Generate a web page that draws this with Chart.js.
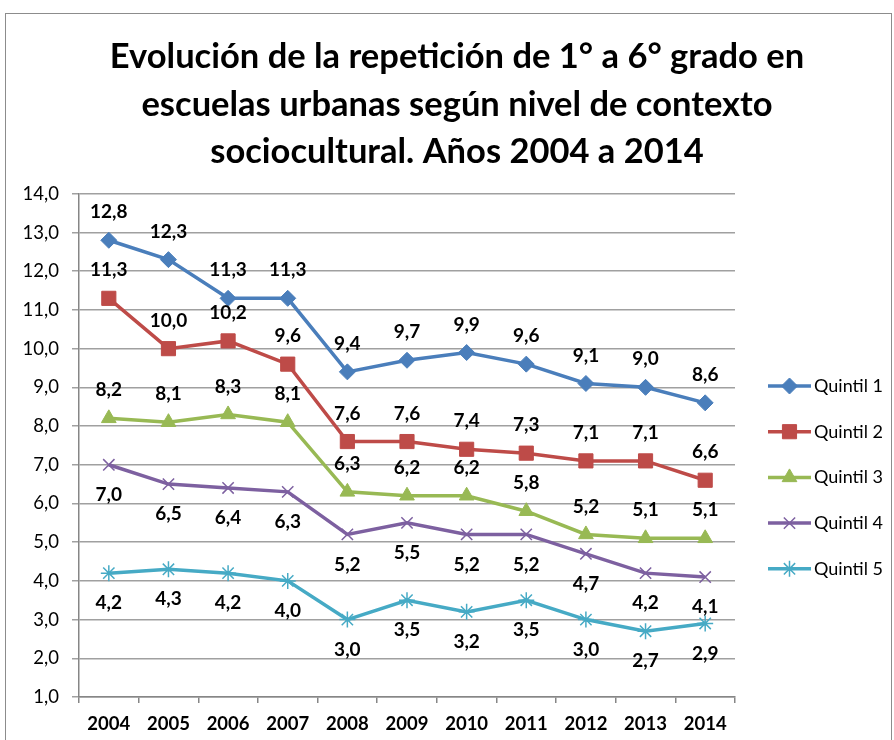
<!DOCTYPE html>
<html>
<head>
<meta charset="utf-8">
<script src="https://cdn.jsdelivr.net/npm/chart.js@4.4.0/dist/chart.umd.min.js"></script>
<style>
  html, body { margin: 0; padding: 0; background: #fff; overflow: hidden; }
  #frame { position: absolute; left: 5px; top: 13px; width: 887px; height: 800px; border: 1.5px solid #8c8c8c; box-sizing: border-box; }
  #wrap { position: absolute; left: 0; top: 0; width: 894px; height: 740px; }
</style>
</head>
<body>
<div id="frame"></div>
<div id="wrap"><canvas id="myChart" width="894" height="740"></canvas></div>
<script>
const years = ['2004', '2005', '2006', '2007', '2008', '2009', '2010', '2011', '2012', '2013', '2014'];
const seriesNames = ['Quintil 1', 'Quintil 2', 'Quintil 3', 'Quintil 4', 'Quintil 5'];
const quintil1 = [12.8, 12.3, 11.3, 11.3, 9.4, 9.7, 9.9, 9.6, 9.1, 9.0, 8.6];
const quintil2 = [11.3, 10.0, 10.2, 9.6, 7.6, 7.6, 7.4, 7.3, 7.1, 7.1, 6.6];
const quintil3 = [8.2, 8.1, 8.3, 8.1, 6.3, 6.2, 6.2, 5.8, 5.2, 5.1, 5.1];
const quintil4 = [7.0, 6.5, 6.4, 6.3, 5.2, 5.5, 5.2, 5.2, 4.7, 4.2, 4.1];
const quintil5 = [4.2, 4.3, 4.2, 4.0, 3.0, 3.5, 3.2, 3.5, 3.0, 2.7, 2.9];
const titleLines = ['Evolución de la repetición de 1° a 6° grado en', 'escuelas urbanas según nivel de contexto', 'sociocultural. Años 2004 a 2014'];

const colores = ['#4a7ebb', '#be4b48', '#98b954', '#7d60a0', '#46aac5'];
const estilos = ['rectRot', 'rect', 'triangle', 'crossRot', 'star'];
const radios = [8, 10, 8.5, 8, 8];
const labelOffset = [-28, -28, -28, 30, 30];
const FONT = 'Lato, "Open Sans", sans-serif';

function fmt(v) { return v.toFixed(1).replace('.', ','); }

const valores = [quintil1, quintil2, quintil3, quintil4, quintil5];
const datasets = valores.map(function (vals, i) {
  return {
    label: seriesNames[i],
    data: vals,
    borderColor: colores[i],
    backgroundColor: colores[i],
    pointBackgroundColor: colores[i],
    pointBorderColor: colores[i],
    pointStyle: estilos[i],
    pointRadius: radios[i],
    pointBorderWidth: (i >= 3) ? 1.5 : 1,
    borderWidth: 3.5,
    tension: 0
  };
});

// etiquetas de datos sobre / bajo cada punto
const dataLabels = {
  id: 'dataLabels',
  afterDatasetsDraw: function (chart) {
    const ctx = chart.ctx;
    ctx.save();
    ctx.font = 'bold 19px ' + FONT;
    ctx.fillStyle = '#000';
    ctx.textAlign = 'center';
    ctx.textBaseline = 'middle';
    chart.data.datasets.forEach(function (ds, i) {
      chart.getDatasetMeta(i).data.forEach(function (pt, j) {
        ctx.fillText(fmt(ds.data[j]), pt.x, pt.y + labelOffset[i]);
      });
    });
    ctx.restore();
  }
};

// leyenda con linea + marcador
const lineLegend = {
  id: 'lineLegend',
  afterDraw: function (chart) {
    const ctx = chart.ctx;
    const x0 = 768, x1 = 811, y0 = 386, step = 45.7;
    ctx.save();
    chart.data.datasets.forEach(function (ds, i) {
      const y = y0 + i * step;
      ctx.strokeStyle = ds.borderColor;
      ctx.lineWidth = 3.5;
      ctx.beginPath();
      ctx.moveTo(x0, y);
      ctx.lineTo(x1, y);
      ctx.stroke();
      ctx.fillStyle = ds.borderColor;
      ctx.lineWidth = ds.pointBorderWidth;
      Chart.helpers.drawPoint(ctx, { pointStyle: ds.pointStyle, radius: ds.pointRadius, borderWidth: ds.pointBorderWidth, rotation: 0 }, (x0 + x1) / 2, y);
      ctx.fillStyle = '#000';
      ctx.font = '18px ' + FONT;
      ctx.textAlign = 'left';
      ctx.textBaseline = 'middle';
      ctx.fillText(ds.label, 814, y);
    });
    ctx.restore();
  }
};

const ctx = document.getElementById('myChart');
const myChart = new Chart(ctx, {
  type: 'line',
  data: { labels: years, datasets: datasets },
  plugins: [dataLabels, lineLegend],
  options: {
    responsive: false,
    animation: false,
    layout: { padding: { left: 20, right: 0, top: 0, bottom: 0 } },
    plugins: {
      legend: { display: false },
      tooltip: { enabled: false },
      title: {
        display: true,
        text: titleLines,
        color: '#000',
        font: { family: FONT, size: 34.5, weight: 'bold', lineHeight: 1.38 },
        padding: { top: 33, bottom: 18 }
      }
    },
    scales: {
      x: {
        offset: true,
        grid: { display: true, drawOnChartArea: false, offset: true, tickLength: 6, color: '#868686', lineWidth: 1.5 },
        border: { color: '#868686', width: 1.5 },
        ticks: { color: '#000', font: { family: FONT, size: 18.5, weight: 'bold' }, padding: 10, maxRotation: 0 },
        afterFit: function (s) { s.height = 43; }
      },
      y: {
        min: 1,
        max: 14,
        ticks: { stepSize: 1, color: '#000', font: { family: FONT, size: 18.5 }, padding: 13, callback: function (v) { return fmt(v); } },
        grid: { color: '#a0a0a0', lineWidth: 1.5, tickLength: 7 },
        border: { color: '#868686', width: 1.5 },
        afterFit: function (s) { s.width = 59; }
      },
      yR: {
        position: 'right',
        ticks: { display: false },
        grid: { display: false },
        border: { display: false },
        afterFit: function (s) { s.width = 159; }
      }
    }
  }
});
</script>
</body>
</html>
